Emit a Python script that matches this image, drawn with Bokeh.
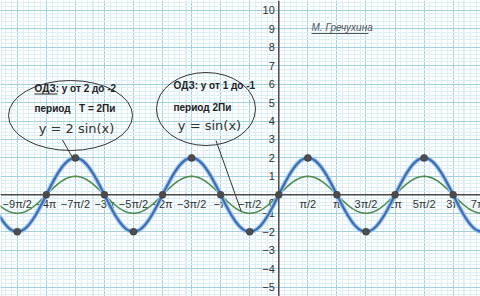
import numpy as np
from bokeh.plotting import figure
from bokeh.models import Range1d, Grid, FixedTicker, Span, ColumnDataSource
from bokeh.core.properties import value
from bokeh.embed import file_html
from bokeh.resources import INLINE

PI = np.pi

# ---- data ----
x_tick_steps = [-9, -8, -7, -6, -5, -4, -3, -2, -1, 1, 2, 3, 4, 5, 6, 7]   # multiples of pi/2
x_tick_labels = ["−9π/2", "−4π", "−7π/2", "−3π", "−5π/2", "−2π", "−3π/2", "−π",
                 "−π/2", "π/2", "π", "3π/2", "2π", "5π/2", "3π", "7π/2"]
y_tick_values = [-5, -4, -3, -2, -1, 1, 2, 3, 4, 5, 6, 7, 8, 9, 10]
y_tick_labels = ["−5", "−4", "−3", "−2", "−1", "1", "2", "3", "4", "5", "6", "7", "8", "9", "10"]
amp_big = 2      # y = 2 sin(x)
amp_small = 1    # y = sin(x)
point_steps = [-9, -8, -7, -6, -5, -4, -3, -2, -1, 0, 1, 2, 3, 4, 5, 6]  # multiples of pi/2
point_y = [-2, 0, 2, 0, -2, 0, 2, 0, -2, 0, 2, 0, -2, 0, 2, 0]

# ---- pixel helpers (layout) ----
W, H = 480, 296
OX, OY = 278.3, 194.3
UX, UY = 18.5, 18.45
def X(px): return (px - OX) / UX
def Y(py): return (OY - py) / UY

p = figure(width=W, height=H, output_backend="svg", toolbar_location=None,
           x_range=Range1d(X(0), X(W)), y_range=Range1d(Y(H), Y(0)),
           x_axis_location=None, y_axis_location=None, min_border=0)
p.outline_line_color = None
p.background_fill_color = "white"
p.border_fill_color = "white"

major_c = "#a3d0e2"
minor_c = "#ddeff6"
xmaj = [k * PI / 2 for k in range(-12, 10)]
xmin = [k * PI / 10 for k in range(-60, 50)]
ymaj = list(range(-8, 13))
ymin = [k / 5 for k in range(-40, 65)]
p.add_layout(Grid(dimension=0, ticker=FixedTicker(ticks=xmaj, minor_ticks=xmin),
                  grid_line_color=major_c, grid_line_width=1,
                  minor_grid_line_color=minor_c, minor_grid_line_width=1))
p.add_layout(Grid(dimension=1, ticker=FixedTicker(ticks=ymaj, minor_ticks=ymin),
                  grid_line_color=major_c, grid_line_width=1,
                  minor_grid_line_color=minor_c, minor_grid_line_width=1))

# axes
p.add_layout(Span(location=0, dimension="width", line_color="#4a4a4a", line_width=1.5))
p.add_layout(Span(location=0, dimension="height", line_color="#4a4a4a", line_width=1.5))

font = value("Liberation Sans")

# tick labels
p.text(x=[k * PI / 2 for k in x_tick_steps], y=[Y(OY + 9)] * len(x_tick_steps),
       text=x_tick_labels, text_font=font, text_font_size="11px", text_color="#333333",
       text_align="center", text_baseline="middle")
p.text(x=[X(OX - 4)] * len(y_tick_values), y=y_tick_values, text=y_tick_labels,
       text_font=font, text_font_size="11px", text_color="#333333",
       text_align="right", text_baseline="middle")
p.text(x=[X(OX - 4)], y=[Y(OY + 8)], text=["0"], text_font=font, text_font_size="11px",
       text_color="#333333", text_align="right", text_baseline="middle")

# curves
xs = np.linspace(X(0) - 0.5, X(W) + 0.5, 1200)
p.line(xs, amp_small * np.sin(xs), line_color="#4e8c4e", line_width=1.6)
p.line(xs, amp_big * np.sin(xs), line_color="#9ec4ee", line_width=4.5)
p.line(xs, amp_big * np.sin(xs), line_color="#3b6db3", line_width=2.2)

# points
p.scatter([k * PI / 2 for k in point_steps], point_y, size=7, fill_color="#4d4d4d",
          line_color="#333333", line_width=0.5)

# callouts
p.ellipse(x=[X(70), X(205.5)], y=[Y(115), Y(108.5)], width=[124 / UX, 99 / UX],
          height=[70 / UY, 73 / UY], fill_color=None, line_color="#333333", line_width=1)
p.segment(x0=[X(62), X(215.5)], y0=[Y(139.5), Y(140)], x1=[X(72), X(240.7)],
          y1=[Y(157), Y(210.7)], line_color="#333333", line_width=1)

NB = "\u00a0"
bold = dict(text_font=font, text_font_size="10px", text_font_style="bold",
            text_color="#222222", text_align="left", text_baseline="middle")
p.text(x=[X(34), X(34), X(173), X(173)], y=[Y(88), Y(108), Y(85), Y(107)],
       text=["ОДЗ: у от 2 до -2", "период" + NB * 3 + "Т = 2Пи", "ОДЗ: у от 1 до -1", "период 2Пи"],
       **bold)
p.segment(x0=[X(34)], y0=[Y(93.5)], x1=[X(57)], y1=[Y(93.5)], line_color="#222222", line_width=1)

p.text(x=[X(76), X(209)], y=[Y(128), Y(125)], text=["y = 2 sin(x)", "y = sin(x)"],
       text_font=value("DejaVu Sans"), text_font_size="13px", text_color="#333333",
       text_align="center", text_baseline="middle")

# author
p.text(x=[X(311)], y=[Y(27)], text=["М. Гречухина"], text_font=font, text_font_size="10px",
       text_font_style="italic", text_color="#555555", text_align="left", text_baseline="middle")
p.segment(x0=[X(311)], y0=[Y(33)], x1=[X(368)], y1=[Y(33)], line_color="#555555", line_width=1)

open("out.html", "w").write(file_html(p, INLINE))
